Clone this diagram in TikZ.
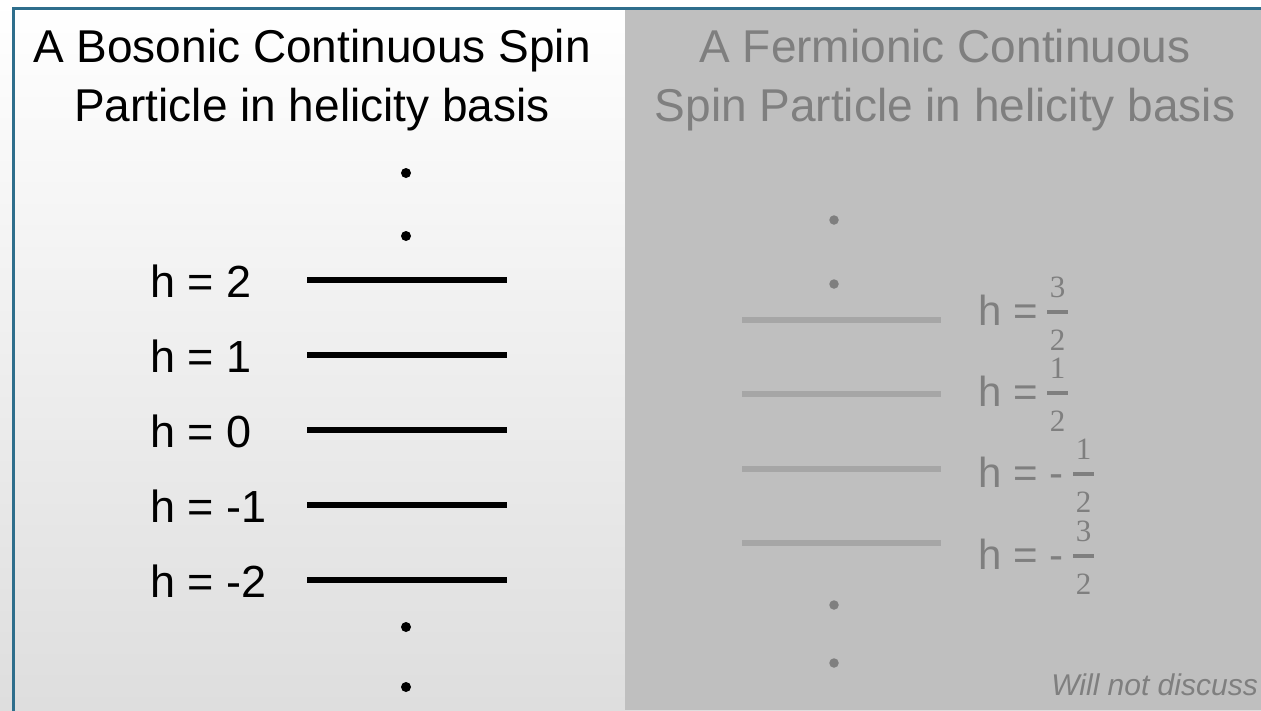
\documentclass[tikz,border=0pt]{standalone}
\usepackage{fontspec}
\setmainfont{Liberation Sans}
\newfontfamily\digitfont{Liberation Serif}
\definecolor{borderblue}{RGB}{46,110,140}
\definecolor{panelgray}{RGB}{191,191,191}
\definecolor{textgray}{RGB}{127,127,127}
\definecolor{linegray}{RGB}{166,166,166}
\begin{document}
\begin{tikzpicture}[x=1pt,y=-1pt,
  title/.style={anchor=base,inner sep=0pt,font=\fontsize{46}{54}\selectfont},
  hlabel/.style={anchor=base west,inner sep=0pt,font=\fontsize{45}{54}\selectfont},
  flabel/.style={anchor=base west,inner sep=0pt,font=\fontsize{42}{54}\selectfont},
  digit/.style={anchor=base,inner sep=0pt,text=textgray,font=\fontsize{31}{36}\digitfont},
  blackdot/.style={circle,fill=black,inner sep=0pt,minimum size=10pt},
  graydot/.style={circle,fill=textgray,inner sep=0pt,minimum size=9.5pt},
  blevel/.style={line width=5.5pt,black},
  flevel/.style={line width=6pt,linegray},
  fbar/.style={line width=3.5pt,textgray}]
\useasboundingbox (0,0) rectangle (1261,710);
\shade[top color=white,bottom color=black!13] (0,0) rectangle (1261,710);
\fill[panelgray] (625,10) rectangle (1261,710);
\draw[borderblue,line width=3pt] (13.5,711) -- (13.5,8.5) -- (1262,8.5);
% left titles
\node[title] (bt1) at (312,62) {A Bosonic Continuous Spin};
\node[title] (bt2) at (312,121) {Particle in helicity basis};
% right titles
\node[title,text=textgray] (ft1) at (945,62) {A Fermionic Continuous};
\node[title,text=textgray] (ft2) at (945,121) {Spin Particle in helicity basis};
% left dots
\node[blackdot] (ld1) at (406,173) {};
\node[blackdot] (ld2) at (406,236) {};
\node[blackdot] (ld3) at (406,627) {};
\node[blackdot] (ld4) at (406,687) {};
% left levels
\foreach \yy/\lab/\nm in {280/2/a,355/1/b,430/0/c,505/-1/d,580/-2/e}{
  \coordinate (bl\nm) at (307,\yy);
  \coordinate (br\nm) at (507,\yy);
  \draw[blevel] (bl\nm) -- (br\nm);
  \node[hlabel] (bh\nm) at (150,\yy+17) {h = \lab};
}
% right dots
\node[graydot] (rd1) at (834,220) {};
\node[graydot] (rd2) at (834,284) {};
\node[graydot] (rd3) at (834,605) {};
\node[graydot] (rd4) at (834,663) {};
% right levels
\foreach \yy/\nm in {320/a,394/b,469/c,543/d}{
  \coordinate (fl\nm) at (742,\yy);
  \coordinate (fr\nm) at (941,\yy);
  \draw[flevel] (fl\nm) -- (fr\nm);
}
% right labels
\foreach \b/\sg/\num/\xl/\nm in {312//3/1047/a,393//1/1047/b,474/-/1/1073/c,556/-/3/1073/d}{
  \node[flabel,text=textgray] (fh\nm) at (978,\b+13) {h = \sg};
  \coordinate (fb1\nm) at (\xl,\b);
  \coordinate (fb2\nm) at (\xl+21,\b);
  \draw[fbar] (fb1\nm) -- (fb2\nm);
  \node[digit] (fn\nm) at (\xl+10.5,\b-15) {\num};
  \node[digit] (fd\nm) at (\xl+10.5,\b+38) {2};
}
\node[anchor=base east,inner sep=0pt,text=textgray,font=\fontsize{30}{36}\selectfont\itshape] (wnd) at (1258,695) {Will not discuss};
\end{tikzpicture}
\end{document}
